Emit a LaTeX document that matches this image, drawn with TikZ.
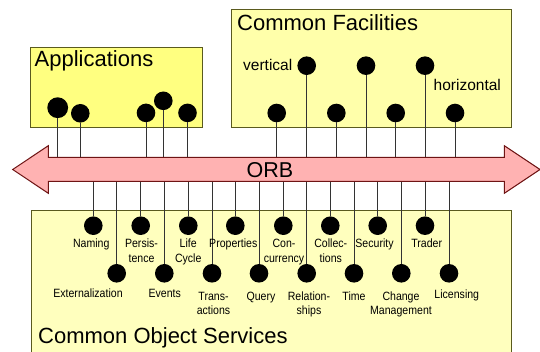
\documentclass[tikz,border=0pt]{standalone}
\usepackage{fontspec}
\setmainfont{Liberation Sans}
\newfontfamily\narrowfont[FakeStretch=0.88]{Liberation Sans}
\definecolor{appfill}{RGB}{255,255,128}
\definecolor{cffill}{RGB}{255,255,170}
\definecolor{cosfill}{RGB}{255,255,190}
\definecolor{boxline}{RGB}{90,90,30}
\definecolor{orbfill}{RGB}{255,178,178}
\definecolor{orbline}{RGB}{110,20,20}
\tikzset{
  panel/.style={draw=boxline, line width=1pt},
  pin/.style={circle, fill=black, inner sep=0pt, minimum size=18.6pt},
  bigpin/.style={pin, minimum size=20.8pt},
  stem/.style={draw=black!80, line width=1pt},
  lbl/.style={font=\narrowfont\fontsize{12}{14.4}\selectfont, inner sep=0pt, anchor=base},
  titletext/.style={font=\fontsize{22}{26}\selectfont, inner sep=0pt, anchor=base west},
  sidetext/.style={font=\fontsize{15.5}{18}\selectfont, inner sep=0pt, anchor=base west}
}
\begin{document}
\begin{tikzpicture}[x=1pt,y=-1pt]
\useasboundingbox (0,0) rectangle (540,352);
\fill[white] (0,0) rectangle (540,352);
% panels
\fill[appfill] (30,47.7) rectangle (202.7,128);
\draw[panel] (30,47.7) rectangle (202.7,128);
\fill[cffill] (231.5,9.3) rectangle (511,127.7);
\draw[panel] (231.5,9.3) rectangle (511,127.7);
\fill[cosfill] (31,211) rectangle (511,352);
\draw[panel] (31,353) -- (31,211) -- (511,211) -- (511,353);
% titles
\node[titletext] (tapp) at (34.5,67) {Applications};
\node[titletext] (tcf) at (237,30.5) {Common Facilities};
\node[titletext] (tcos) at (38,343) {Common Object Services};
\node[sidetext] (tvert) at (243,71) {vertical};
\node[sidetext] (thor) at (433.5,90.5) {horizontal};
% shaft edges
\coordinate (shtop) at (0,157.3);
\coordinate (shbot) at (0,181.5);
% application pins
\node[bigpin] (a1) at (57.7,107.7) {};
\node[pin] (a2) at (80.3,113.3) {};
\node[pin] (a3) at (146,112.9) {};
\node[pin] (a4) at (163.3,100.8) {};
\node[pin] (a5) at (187.5,112.9) {};
% facilities pins
\node[pin] (f1) at (306.7,65.7) {};
\node[pin] (f2) at (366,65.7) {};
\node[pin] (f3) at (425,65.7) {};
\node[pin] (g1) at (276.7,113) {};
\node[pin] (g2) at (336.3,113) {};
\node[pin] (g3) at (395.7,113) {};
\node[pin] (g4) at (455,113) {};
\foreach \p in {a1,a2,a3,a4,a5,f1,f2,f3,g1,g2,g3,g4}
  \draw[stem] (\p.south) -- (\p |- shtop);
% services pins
\node[pin] (s1) at (93.3,225.7) {};
\node[pin] (s2) at (140.7,225.7) {};
\node[pin] (s3) at (188.3,225.7) {};
\node[pin] (s4) at (235.3,225.7) {};
\node[pin] (s5) at (283.3,225.7) {};
\node[pin] (s6) at (330.3,225.7) {};
\node[pin] (s7) at (377.7,225.7) {};
\node[pin] (s8) at (425,225.7) {};
\node[pin] (t1) at (116.7,273.3) {};
\node[pin] (t2) at (164.3,273.3) {};
\node[pin] (t3) at (212,273.3) {};
\node[pin] (t4) at (259,273.3) {};
\node[pin] (t5) at (306.7,273.3) {};
\node[pin] (t6) at (354,273.3) {};
\node[pin] (t7) at (401.3,273.3) {};
\node[pin] (t8) at (449,273.3) {};
\foreach \p in {s1,s2,s3,s4,s5,s6,s7,s8,t1,t2,t3,t4,t5,t6,t7,t8}
  \draw[stem] (\p.north) -- (\p |- shbot);
% ORB arrow
\draw[draw=orbline, fill=orbfill, line width=1pt, line join=miter]
  (12.7,169.5) -- (48.3,145.7) -- (48.3,157.3) -- (504.3,157.3) -- (504.3,145.7)
  -- (540,169.5) -- (504.3,193.3) -- (504.3,181.5) -- (48.3,181.5) -- (48.3,193.3) -- cycle;
\node[font=\fontsize{21.5}{25}\selectfont, inner sep=0pt, anchor=base] (orb) at (270,177.6) {ORB};
% service labels, upper row
\node[lbl] (lnam) at (91.3,247.7) {Naming};
\node[lbl] (lper1) at (141.5,247.7) {Persis-};
\node[lbl] (lper2) at (141.5,262.1) {tence};
\node[lbl] (llif1) at (188.2,247.7) {Life};
\node[lbl] (llif2) at (188.2,262.1) {Cycle};
\node[lbl] (lpro) at (233.3,247.7) {Properties};
\node[lbl] (lcon1) at (284,247.7) {Con-};
\node[lbl] (lcon2) at (284,262.1) {currency};
\node[lbl] (lcol1) at (330.8,247.7) {Collec-};
\node[lbl] (lcol2) at (330.8,262.1) {tions};
\node[lbl] (lsec) at (374.5,247.7) {Security};
\node[lbl] (ltra) at (426.7,247.7) {Trader};
% service labels, lower row
\node[lbl] (lext) at (88,297.7) {Externalization};
\node[lbl] (levt) at (164.7,297.7) {Events};
\node[lbl] (ltrn1) at (213.5,300.3) {Trans-};
\node[lbl] (ltrn2) at (213.5,314.7) {actions};
\node[lbl] (lqry) at (261,300.3) {Query};
\node[lbl] (lrel1) at (309,300.3) {Relation-};
\node[lbl] (lrel2) at (309,314.7) {ships};
\node[lbl] (ltim) at (354,300.3) {Time};
\node[lbl] (lchg1) at (401,300.3) {Change};
\node[lbl] (lchg2) at (401,314.7) {Management};
\node[lbl] (llic) at (456.8,298.3) {Licensing};
\end{tikzpicture}
\end{document}
